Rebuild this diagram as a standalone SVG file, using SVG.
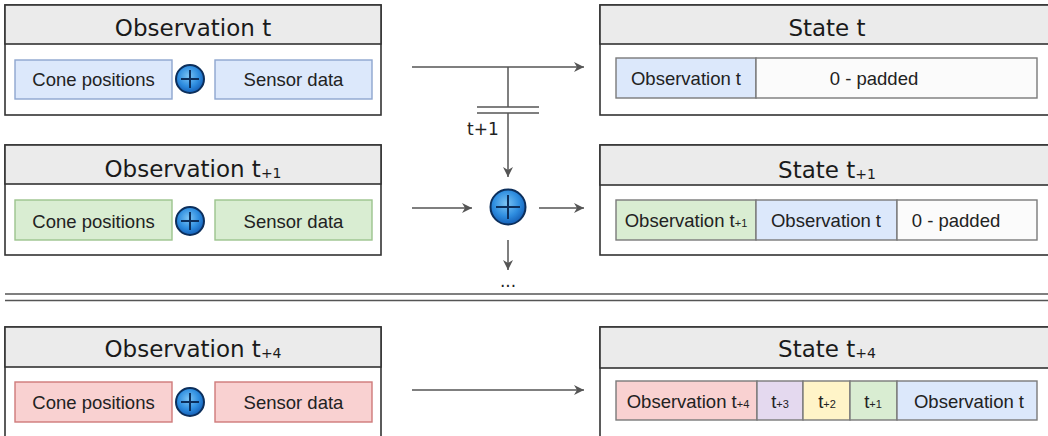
<svg xmlns="http://www.w3.org/2000/svg" width="1048" height="436" viewBox="0 0 1048 436">
  <defs>
    <style>
      .frame { fill: #ffffff; stroke: #333333; stroke-width: 1.6; }
      .head { fill: #ebebeb; stroke: #333333; stroke-width: 1.6; }
      .title { font-family: "DejaVu Sans", Verdana, sans-serif; font-size: 23px; fill: #1a1a1a; text-anchor: middle; }
      .lbl { font-family: "Liberation Sans", Arial, sans-serif; font-size: 18.5px; fill: #222222; text-anchor: middle; }
      .sub { font-size: 11px; }
      .tsub { font-size: 14px; }
      .blue { fill: #dce8fb; stroke: #8ea6cf; stroke-width: 1.4; }
      .green { fill: #d9edd2; stroke: #9cc48d; stroke-width: 1.4; }
      .red { fill: #f9d1d1; stroke: #cf7a7a; stroke-width: 1.4; }
      .cell { stroke: #7a7a7a; stroke-width: 1.4; }
      .c-blue { fill: #dce8fb; }
      .c-green { fill: #d9edd2; }
      .c-red { fill: #f9d1d1; }
      .c-purple { fill: #e4d9ef; }
      .c-yellow { fill: #fff4c8; }
      .c-pad { fill: #fbfbfb; }
      .wire { fill: none; stroke: #555555; stroke-width: 1.5; }
      .wire-end { fill: none; stroke: #555555; stroke-width: 1.5; marker-end: url(#head); }
      .sep { fill: none; stroke: #555555; stroke-width: 1.6; }
      .plus { stroke: #0c2f5c; stroke-width: 2; fill: none; }
      .note { font-family: "DejaVu Sans", Verdana, sans-serif; font-size: 17px; fill: #222222; }
    </style>
    <radialGradient id="orb" cx="0.45" cy="0.4" r="0.6">
      <stop offset="0" stop-color="#7cc4f4"/>
      <stop offset="0.6" stop-color="#2f8ee0"/>
      <stop offset="1" stop-color="#1560b8"/>
    </radialGradient>
    <marker id="head" viewBox="0 0 10 10" refX="10" refY="5" markerWidth="10" markerHeight="10" markerUnits="userSpaceOnUse" orient="auto">
      <path d="M0,0 L10,5 L0,10 L3,5 z" fill="#555555"/>
    </marker>
    <g id="mini-plus">
      <circle r="14" fill="url(#orb)" stroke="#0c2f5c" stroke-width="2"/>
      <path class="plus" d="M-9,0 H9 M0,-9 V9"/>
    </g>
    <g id="big-plus">
      <circle r="17.5" fill="url(#orb)" stroke="#0c2f5c" stroke-width="2"/>
      <path class="plus" d="M-12,0 H12 M0,-12 V12"/>
    </g>
  </defs>

  <rect width="1048" height="436" fill="#ffffff"/>

  <!-- Observation t -->
  <g id="obs-t">
    <rect class="frame" x="5" y="5" width="376" height="110"/>
    <rect class="head" x="5" y="5" width="376" height="39"/>
    <text class="title" x="193" y="36">Observation t</text>
    <rect class="blue" x="15" y="60" width="157" height="39"/>
    <text class="lbl" x="93.5" y="86">Cone positions</text>
    <use href="#mini-plus" x="190" y="79"/>
    <rect class="blue" x="215" y="60" width="157" height="39"/>
    <text class="lbl" x="293.5" y="86">Sensor data</text>
  </g>

  <!-- State t -->
  <g id="state-t">
    <rect class="frame" x="600" y="5" width="460" height="110"/>
    <rect class="head" x="600" y="5" width="460" height="39"/>
    <text class="title" x="827" y="36">State t</text>
    <rect class="cell c-blue" x="616" y="58" width="140" height="40"/>
    <text class="lbl" x="686" y="85">Observation t</text>
    <rect class="cell c-pad" x="756" y="58" width="281" height="40"/>
    <text class="lbl" x="874" y="85">0 - padded</text>
  </g>

  <!-- Observation t+1 -->
  <g id="obs-t1">
    <rect class="frame" x="5" y="145" width="376" height="110"/>
    <rect class="head" x="5" y="145" width="376" height="39"/>
    <text class="title" x="193" y="177">Observation t<tspan class="tsub" dy="1">+1</tspan></text>
    <rect class="green" x="15" y="200" width="157" height="40"/>
    <text class="lbl" x="93.5" y="228">Cone positions</text>
    <use href="#mini-plus" x="190" y="221"/>
    <rect class="green" x="215" y="200" width="157" height="40"/>
    <text class="lbl" x="293.5" y="228">Sensor data</text>
  </g>

  <!-- State t+1 -->
  <g id="state-t1">
    <rect class="frame" x="600" y="145" width="460" height="110"/>
    <rect class="head" x="600" y="145" width="460" height="40"/>
    <text class="title" x="827" y="178">State t<tspan class="tsub" dy="1">+1</tspan></text>
    <rect class="cell c-green" x="616" y="200" width="140" height="40"/>
    <text class="lbl" x="686" y="227">Observation t<tspan class="sub">+1</tspan></text>
    <rect class="cell c-blue" x="756" y="200" width="141" height="40"/>
    <text class="lbl" x="826" y="227">Observation t</text>
    <rect class="cell c-pad" x="897" y="200" width="140" height="40"/>
    <text class="lbl" x="956" y="227">0 - padded</text>
  </g>

  <!-- Observation t+4 -->
  <g id="obs-t4">
    <rect class="frame" x="5" y="327" width="376" height="120"/>
    <rect class="head" x="5" y="327" width="376" height="40"/>
    <text class="title" x="193" y="357">Observation t<tspan class="tsub" dy="1">+4</tspan></text>
    <rect class="red" x="15" y="382" width="157" height="40"/>
    <text class="lbl" x="93.5" y="409">Cone positions</text>
    <use href="#mini-plus" x="190" y="402"/>
    <rect class="red" x="215" y="382" width="157" height="40"/>
    <text class="lbl" x="293.5" y="409">Sensor data</text>
  </g>

  <!-- State t+4 -->
  <g id="state-t4">
    <rect class="frame" x="600" y="327" width="460" height="120"/>
    <rect class="head" x="600" y="327" width="460" height="41"/>
    <text class="title" x="827" y="357">State t<tspan class="tsub" dy="1">+4</tspan></text>
    <rect class="cell c-red" x="616" y="381" width="141" height="39"/>
    <text class="lbl" x="688" y="408">Observation t<tspan class="sub">+4</tspan></text>
    <rect class="cell c-purple" x="757" y="381" width="46" height="39"/>
    <text class="lbl" x="780" y="408">t<tspan class="sub">+3</tspan></text>
    <rect class="cell c-yellow" x="803" y="381" width="47" height="39"/>
    <text class="lbl" x="827" y="408">t<tspan class="sub">+2</tspan></text>
    <rect class="cell c-green" x="850" y="381" width="47" height="39"/>
    <text class="lbl" x="873" y="408">t<tspan class="sub">+1</tspan></text>
    <rect class="cell c-blue" x="897" y="381" width="140" height="39"/>
    <text class="lbl" x="969" y="408">Observation t</text>
  </g>

  <!-- Concatenation node -->
  <g id="concat">
    <use href="#big-plus" x="508" y="207"/>
  </g>

  <!-- Connectors -->
  <g id="connectors">
    <path class="wire-end" d="M412,67 H584"/>
    <path class="wire" d="M508,67 V107"/>
    <path class="wire" d="M477,107 H539 M477,113 H539"/>
    <path class="wire-end" d="M508,113 V177"/>
    <text class="note" x="467" y="135">t+1</text>
    <path class="wire-end" d="M412,208 H472"/>
    <path class="wire-end" d="M539,208 H584"/>
    <path class="wire-end" d="M508,240 V270"/>
    <text class="note" x="508" y="287" text-anchor="middle" font-size="14">...</text>
    <path class="wire-end" d="M412,390 H584"/>
  </g>

  <!-- Section divider -->
  <g id="divider">
    <path class="sep" d="M5,294 H1048 M5,300.5 H1048"/>
  </g>
</svg>
